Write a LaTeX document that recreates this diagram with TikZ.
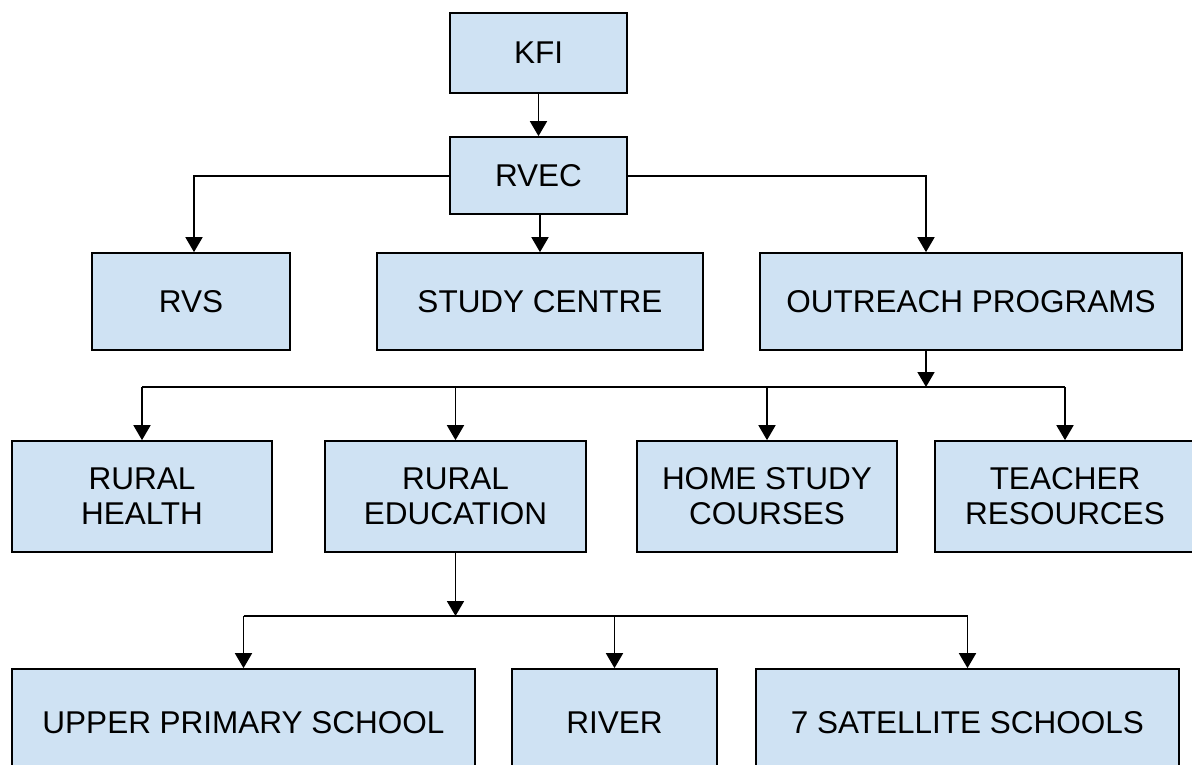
\documentclass[tikz,border=0pt]{standalone}
\usepackage{fontspec}
\setmainfont{Liberation Sans}
\usetikzlibrary{arrows.meta}
\definecolor{boxblue}{HTML}{CFE2F3}
\tikzset{
  box/.style={draw=black, fill=boxblue, line width=1.7pt, align=center, inner sep=0pt,
    font=\fontsize{31.5}{35}\selectfont},
  conn/.style={draw=black, line width=1.8pt},
  arr/.style={conn, -{Triangle[width=17pt,length=15pt]}}
}
\begin{document}
\begin{tikzpicture}[x=1pt,y=-1pt]
\clip (0,0) rectangle (1192,764);
\fill[white] (0,0) rectangle (1192,764);
% level 0
\node[box, minimum width=177pt, minimum height=80pt] (kfi) at (538.5,53) {KFI};
\node[box, minimum width=177pt, minimum height=77pt] (rvec) at (538.5,175.5) {RVEC};
% level 1
\node[box, minimum width=198pt, minimum height=97pt] (rvs) at (191,301.5) {RVS};
\node[box, minimum width=326pt, minimum height=97pt] (study) at (540,301.5) {STUDY CENTRE};
\node[box, minimum width=422pt, minimum height=97pt] (outreach) at (971,301.5) {OUTREACH PROGRAMS};
% level 2
\node[box, minimum width=260pt, minimum height=111pt] (health) at (142,496.5) {RURAL\\HEALTH};
\node[box, minimum width=261pt, minimum height=111pt] (edu) at (455.5,496.5) {RURAL\\EDUCATION};
\node[box, minimum width=260pt, minimum height=111pt] (home) at (767,496.5) {HOME STUDY\\COURSES};
\node[box, minimum width=260pt, minimum height=111pt] (teacher) at (1065,496.5) {TEACHER\\RESOURCES};
% level 3
\node[box, minimum width=463pt, minimum height=108pt] (ups) at (243.5,723) {UPPER PRIMARY SCHOOL};
\node[box, minimum width=205pt, minimum height=108pt] (river) at (614.5,723) {RIVER};
\node[box, minimum width=423pt, minimum height=108pt] (sat) at (967.5,723) {7 SATELLITE SCHOOLS};
% bus coordinates
\coordinate (rl) at (194,176);
\coordinate (rr) at (926,176);
\coordinate (ob) at (926,387);
\coordinate (obl) at (142,387);
\coordinate (obr) at (1065,387);
\coordinate (eb) at (455.5,616);
\coordinate (ebl) at (243.5,616);
\coordinate (ebr) at (967.5,616);
% connectors
\draw[arr] (kfi.south) -- (rvec.north);
\draw[arr] (rvec.west |- rl) -- (rl) -- (rl |- rvs.north);
\draw[arr] (rvec.south -| study.north) -- (study.north);
\draw[arr] (rvec.east |- rr) -- (rr) -- (rr |- outreach.north);
\draw[arr] (outreach.south -| ob) -- (ob);
\draw[conn] (obl) -- (obr);
\draw[arr] (obl) -- (health.north);
\draw[arr] (obl -| edu.north) -- (edu.north);
\draw[arr] (obl -| home.north) -- (home.north);
\draw[arr] (obl -| teacher.north) -- (teacher.north);
\draw[arr] (edu.south) -- (eb);
\draw[conn] (ebl) -- (ebr);
\draw[arr] (ebl) -- (ups.north);
\draw[arr] (ebl -| river.north) -- (river.north);
\draw[arr] (ebr) -- (sat.north);
\end{tikzpicture}
\end{document}
